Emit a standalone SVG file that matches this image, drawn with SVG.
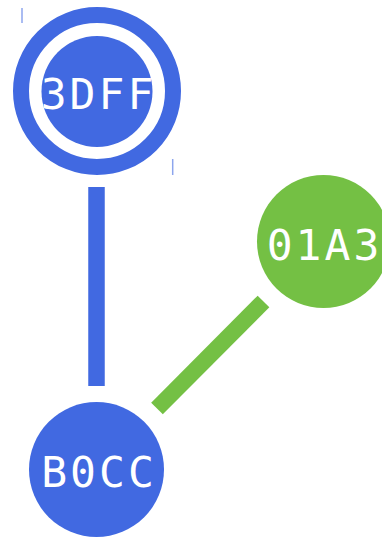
<svg xmlns="http://www.w3.org/2000/svg" width="382" height="537" viewBox="0 0 382 537">
<style>
.blue{fill:#4169e1}
.green{fill:#74c044}
.lbl{font-family:"DejaVu Sans Mono",monospace;font-size:43px;fill:#ffffff;text-anchor:middle;letter-spacing:3px}
.tick{stroke:#4169e1;stroke-opacity:0.6;stroke-width:1.5}
</style>
<rect width="382" height="537" fill="#ffffff"/>
<g id="connectors">
<line x1="96.5" y1="187" x2="96.5" y2="386" stroke="#4169e1" stroke-width="16.5"/>
<line x1="263.5" y1="301.5" x2="157" y2="408.5" stroke="#74c044" stroke-width="16.5"/>
</g>
<g id="node-3DFF">
<circle cx="97" cy="91" r="76" fill="none" stroke="#4169e1" stroke-width="16"/>
<circle class="blue" cx="97" cy="91.5" r="55.5"/>
<text class="lbl" x="98.5" y="109">3DFF</text>
<line class="tick" x1="22" y1="8" x2="22" y2="23"/>
<line class="tick" x1="172.7" y1="159" x2="172.7" y2="175"/>
</g>
<g id="node-01A3">
<circle class="green" cx="323.5" cy="241.5" r="66.5"/>
<text class="lbl" x="324.5" y="260">01A3</text>
</g>
<g id="node-B0CC">
<circle class="blue" cx="96.5" cy="469.5" r="67.5"/>
<text class="lbl" x="99" y="487">B0CC</text>
</g>
</svg>
